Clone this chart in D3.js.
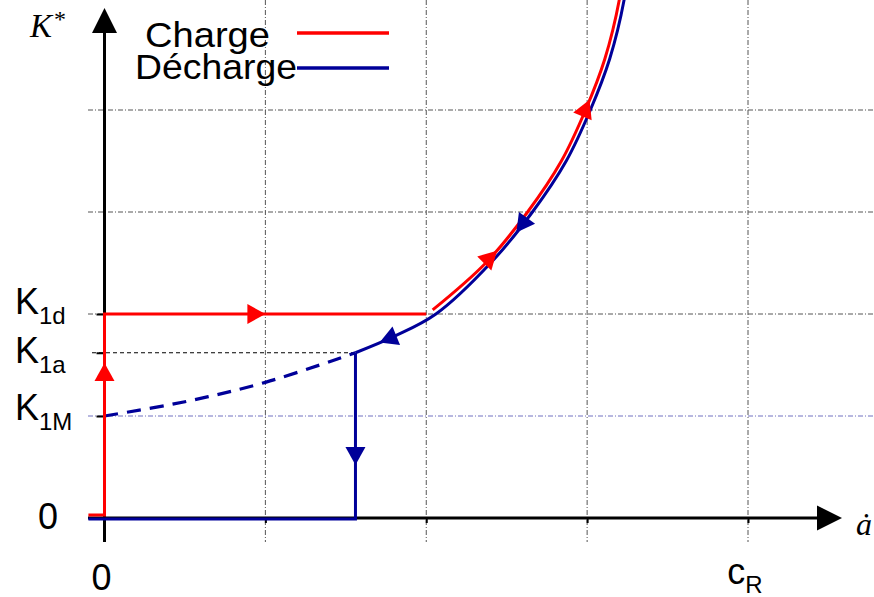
<!DOCTYPE html>
<html><head><meta charset="utf-8">
<script src="https://cdn.jsdelivr.net/npm/d3@7"></script>
<style>body{margin:0;background:#fff}svg{display:block}</style>
</head><body><svg id="c" width="874" height="597"></svg>
<script>
// ---- data ----
const gridX = [1, 2, 3, 4];
const gridY = [1, 2, 3, 4];
const K1a = 1.62;
const xTickLabels = [{v: 0, main: "0", sub: ""}, {v: 4, main: "c", sub: "R"}];
const yTickLabels = [{v: 0, main: "0", sub: ""}, {v: 1, main: "K", sub: "1M"}, {v: K1a, main: "K", sub: "1a"}, {v: 2, main: "K", sub: "1d"}];
const legendItems = ["Charge", "Décharge"];
const chargeSteps = [[-0.1, 0.03], [0, 0.03], [0, 2], [2, 2]];
const chargeCurve = [[2.04, 2.04], [2.37, 2.5], [2.63, 3.0], [2.84, 3.5], [2.99, 4.0], [3.11, 4.5], [3.2, 5.08], [3.205, 5.14]];
const dischargeCurve = [[1.56, 1.62], [1.8, 1.78], [2.06, 2.0], [2.40, 2.5], [2.66, 3.0], [2.87, 3.5], [3.02, 4.0], [3.14, 4.5], [3.23, 5.08], [3.235, 5.14]];
const dischargeDashed = [[0, 1.0], [0.5, 1.14], [1, 1.33], [1.56, 1.62]];
const dischargeSteps = [[-0.1, -0.01], [1.56, -0.01], [1.56, 1.62]];
const chargeArrows = [
  {tip: [0, 1.52], from: [0, 1.3]},
  {tip: [1, 2], from: [0.9, 2]},
  {tip: [2.44, 2.62], from: [2.3, 2.4]},
  {tip: [3.015, 4.1], from: [2.92, 3.75]}
];
const dischargeArrows = [
  {tip: [2.56, 2.8], from: [2.7, 3.1]},
  {tip: [1.71, 1.72], from: [1.85, 1.81]},
  {tip: [1.56, 0.52], from: [1.56, 0.8]}
];

// ---- drawing ----
const RED = "#ff0000", BLUE = "#000099";
const svg = d3.select("#c");
const x = d3.scaleLinear().domain([0, 4]).range([104.5, 748]);
const y = d3.scaleLinear().domain([0, 4]).range([518, 110]);
const sans = "'Liberation Sans', Arial, sans-serif";
const serif = "'Liberation Serif', 'Times New Roman', serif";

// grid
svg.append("g").selectAll("line").data(gridX).join("line")
  .attr("x1", d => x(d)).attr("x2", d => x(d)).attr("y1", 0).attr("y2", 542)
  .attr("stroke", "#555").attr("stroke-width", 1).attr("stroke-dasharray", "5,2,1,2");
svg.append("g").selectAll("line").data(gridY).join("line")
  .attr("x1", 88).attr("x2", 874).attr("y1", d => y(d)).attr("y2", d => y(d))
  .attr("stroke", d => d === 1 ? "#7070c0" : "#555").attr("stroke-width", 1).attr("stroke-dasharray", "5,2,1,2");
svg.append("line").attr("x1", 92).attr("x2", x(1.56)).attr("y1", y(K1a)).attr("y2", y(K1a))
  .attr("stroke", "#000").attr("stroke-width", 1).attr("stroke-dasharray", "4,3");

// axes ticks via d3 axes
const xAxis = svg.append("g").attr("transform", `translate(0,${y(0)})`)
  .call(d3.axisBottom(x).tickValues(gridX).tickSize(5).tickFormat(""));
xAxis.select(".domain").remove();
xAxis.selectAll("line").attr("stroke", "#000").attr("stroke-width", 2);
const yAxis = svg.append("g").attr("transform", `translate(${x(0)},0)`)
  .call(d3.axisLeft(y).tickValues([0, 1, K1a, 2]).tickSize(8).tickFormat(""));
yAxis.select(".domain").remove();
yAxis.selectAll("line").attr("stroke", "#000").attr("stroke-width", 2);

// axis lines with arrowheads
svg.append("line").attr("x1", 88).attr("x2", 820).attr("y1", y(0)).attr("y2", y(0)).attr("stroke", "#000").attr("stroke-width", 3);
svg.append("path").attr("d", `M842,${y(0)} L817,${y(0) - 12.5} L817,${y(0) + 12.5} Z`).attr("fill", "#000");
svg.append("line").attr("x1", x(0)).attr("x2", x(0)).attr("y1", 542).attr("y2", 30).attr("stroke", "#000").attr("stroke-width", 3);
svg.append("path").attr("d", `M${x(0)},8 L${x(0) - 12.5},33 L${x(0) + 12.5},33 Z`).attr("fill", "#000");

// series
const lineL = d3.line().x(d => x(d[0])).y(d => y(d[1]));
const lineC = d3.line().x(d => x(d[0])).y(d => y(d[1])).curve(d3.curveCatmullRom.alpha(0.5));
svg.append("path").attr("d", lineL(dischargeSteps)).attr("fill", "none").attr("stroke", BLUE).attr("stroke-width", 3);
svg.append("path").attr("d", lineC(dischargeDashed)).attr("fill", "none").attr("stroke", BLUE).attr("stroke-width", 3.2).attr("stroke-dasharray", "14,9");
svg.append("path").attr("d", lineC(dischargeCurve)).attr("fill", "none").attr("stroke", BLUE).attr("stroke-width", 3);
svg.append("path").attr("d", lineL(chargeSteps)).attr("fill", "none").attr("stroke", RED).attr("stroke-width", 3);
svg.append("path").attr("d", lineC(chargeCurve)).attr("fill", "none").attr("stroke", RED).attr("stroke-width", 3);

// arrows
function arrows(list, color) {
  svg.append("g").selectAll("path").data(list).join("path")
    .attr("d", "M0,0 L-18,-10 L-18,10 Z")
    .attr("fill", color)
    .attr("transform", d => {
      const px = x(d.tip[0]), py = y(d.tip[1]);
      const fx = x(d.from[0]), fy = y(d.from[1]);
      const a = Math.atan2(py - fy, px - fx) * 180 / Math.PI;
      return `translate(${px},${py}) rotate(${a})`;
    });
}
arrows(chargeArrows, RED);
arrows(dischargeArrows, BLUE);

// y tick labels
const yDy = {"0": 11, "1M": 4, "1a": 10, "1d": 0};
const yStartX = {"0": 38, "K": 15};
yTickLabels.forEach(t => {
  const tx = svg.append("text").attr("x", yStartX[t.main]).attr("y", y(t.v) + yDy[t.sub || t.main])
    .attr("font-family", sans).attr("font-size", 36).attr("fill", "#000").text(t.main);
  if (t.sub) tx.append("tspan").attr("font-size", 24).attr("dy", 10).text(t.sub);
});
// x tick labels
xTickLabels.forEach(t => {
  const tx = svg.append("text").attr("x", x(t.v) - 3).attr("y", 584).attr("text-anchor", "middle")
    .attr("font-family", sans).attr("font-size", 36).attr("fill", "#000").text(t.main);
  if (t.sub) tx.append("tspan").attr("font-size", 24).attr("dy", 9).text(t.sub);
  else tx.attr("y", 590);
});

// axis titles
const kt = svg.append("text").attr("x", 30).attr("y", 37).attr("font-family", serif).attr("font-style", "italic")
  .attr("font-size", 33).attr("fill", "#000").text("K");
kt.append("tspan").attr("font-style", "normal").attr("font-size", 24).attr("dy", -10).attr("dx", 2).text("*");
svg.append("text").attr("x", 856).attr("y", 535).attr("font-family", serif).attr("font-style", "italic")
  .attr("font-size", 32).attr("fill", "#000").text("ȧ");

// legend
const legY = [47, 79], legX = [145, 135], legW = [125, 162], legLineY = [33, 68];
legendItems.forEach((name, i) => {
  svg.append("text").attr("x", legX[i]).attr("y", legY[i]).attr("font-family", sans).attr("font-size", 35)
    .attr("textLength", legW[i]).attr("lengthAdjust", "spacingAndGlyphs").attr("fill", "#000").text(name);
  svg.append("line").attr("x1", 297).attr("x2", 389).attr("y1", legLineY[i]).attr("y2", legLineY[i])
    .attr("stroke", i === 0 ? RED : BLUE).attr("stroke-width", 3.5);
});
</script>
</body></html>
